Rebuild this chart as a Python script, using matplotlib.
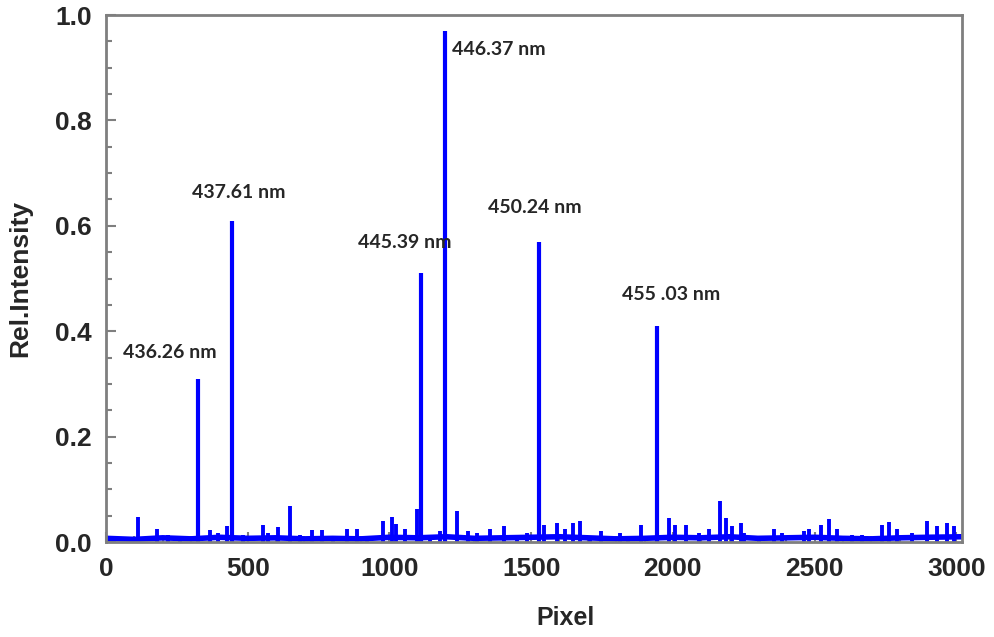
import matplotlib.pyplot as plt
from matplotlib.ticker import MultipleLocator

# main emission lines (pixel, rel. intensity, label)
peak_px = [325, 445, 1112, 1196, 1528, 1945]
peak_int = [0.31, 0.61, 0.51, 0.97, 0.57, 0.41]
peak_labels = ['436.26 nm', '437.61 nm', '445.39 nm', '446.37 nm', '450.24 nm', '455 .03 nm']
label_x = [60, 304, 889, 1221, 1348, 1821]
label_y = [0.359, 0.664, 0.569, 0.934, 0.634, 0.469]

# weak lines
small_px = [113, 180, 219, 261, 367, 395, 426, 483, 553, 571, 606, 649, 684, 726, 761,
            800, 849, 885, 920, 976, 1008, 1025, 1054, 1096, 1142, 1177, 1237, 1276,
            1308, 1354, 1406, 1449, 1484, 1547, 1590, 1618, 1646, 1671, 1706, 1748,
            1812, 1840, 1889, 1988, 2006, 2048, 2094, 2129, 2168, 2189, 2207, 2242,
            2252, 2305, 2358, 2386, 2464, 2481, 2524, 2552, 2580, 2633, 2668, 2739,
            2763, 2792, 2845, 2897, 2933, 2968, 2993]
small_int = [0.047, 0.025, 0.014, 0.012, 0.022, 0.018, 0.030, 0.014, 0.033, 0.018, 0.028,
             0.068, 0.014, 0.022, 0.022, 0.012, 0.024, 0.024, 0.012, 0.040, 0.048, 0.035,
             0.025, 0.062, 0.014, 0.020, 0.058, 0.020, 0.017, 0.024, 0.030, 0.012, 0.017,
             0.033, 0.036, 0.024, 0.036, 0.040, 0.012, 0.020, 0.017, 0.012, 0.032, 0.045,
             0.033, 0.033, 0.017, 0.024, 0.078, 0.045, 0.030, 0.036, 0.017, 0.008, 0.025,
             0.017, 0.020, 0.024, 0.032, 0.043, 0.025, 0.014, 0.014, 0.033, 0.038, 0.024,
             0.017, 0.040, 0.030, 0.036, 0.030]

# noise floor
base_px = [0, 100, 200, 300, 400, 500, 600, 700, 800, 900, 1000, 1100, 1200, 1300, 1400,
           1500, 1600, 1700, 1800, 1900, 2000, 2100, 2200, 2300, 2400, 2500, 2600, 2700,
           2800, 2900, 3020]
base_int = [0.007, 0.005, 0.008, 0.006, 0.009, 0.007, 0.008, 0.006, 0.007, 0.006, 0.009,
            0.008, 0.010, 0.007, 0.008, 0.009, 0.010, 0.008, 0.006, 0.007, 0.009, 0.008,
            0.010, 0.007, 0.008, 0.009, 0.007, 0.006, 0.008, 0.009, 0.010]

grey = '#7f7f7f'
txt = '#262626'

fig = plt.figure(figsize=(9.95, 6.37), dpi=100)
ax = fig.add_axes([0.1065, 0.1491, 0.8603, 0.8273])

ax.plot(base_px, base_int, color='blue', lw=4)
ax.vlines(small_px, 0, small_int, color='blue', lw=2.8)
ax.vlines(peak_px, 0, peak_int, color='blue', lw=3)

for lx, ly, s in zip(label_x, label_y, peak_labels):
    ax.text(lx, ly, s, ha='left', va='center', fontsize=14, fontweight='bold',
            family='Lato', color=txt)

ax.set_xlim(0, 3020)
ax.set_ylim(0, 1.0)
ax.xaxis.set_major_locator(MultipleLocator(500))
ax.xaxis.set_minor_locator(MultipleLocator(100))
ax.yaxis.set_major_locator(MultipleLocator(0.2))
ax.yaxis.set_minor_locator(MultipleLocator(0.05))
ax.set_yticks([0, 0.2, 0.4, 0.6, 0.8, 1.0])
ax.set_yticklabels(['0.0', '0.2', '0.4', '0.6', '0.8', '1.0'])

for sp in ax.spines.values():
    sp.set_color(grey)
    sp.set_linewidth(2)

ax.tick_params(which='both', direction='in', color=grey, width=1.5)
ax.tick_params(which='major', length=7)
ax.tick_params(which='minor', length=4)
ax.tick_params(axis='y', pad=10)
ax.tick_params(axis='x', pad=11)
for lab in ax.get_xticklabels() + ax.get_yticklabels():
    lab.set_fontsize(19)
    lab.set_fontweight('bold')
    lab.set_family('Liberation Sans')
    lab.set_color(txt)

ax.set_xlabel('Pixel', fontsize=18, fontweight='bold', family='Liberation Sans', color=txt)
ax.set_ylabel('Rel.Intensity', fontsize=19, fontweight='bold', family='Liberation Sans', color=txt)
ax.xaxis.set_label_coords(0.537, -0.121)
ax.yaxis.set_label_coords(-0.086, 0.5)

fig.savefig('out.png', dpi=100)
